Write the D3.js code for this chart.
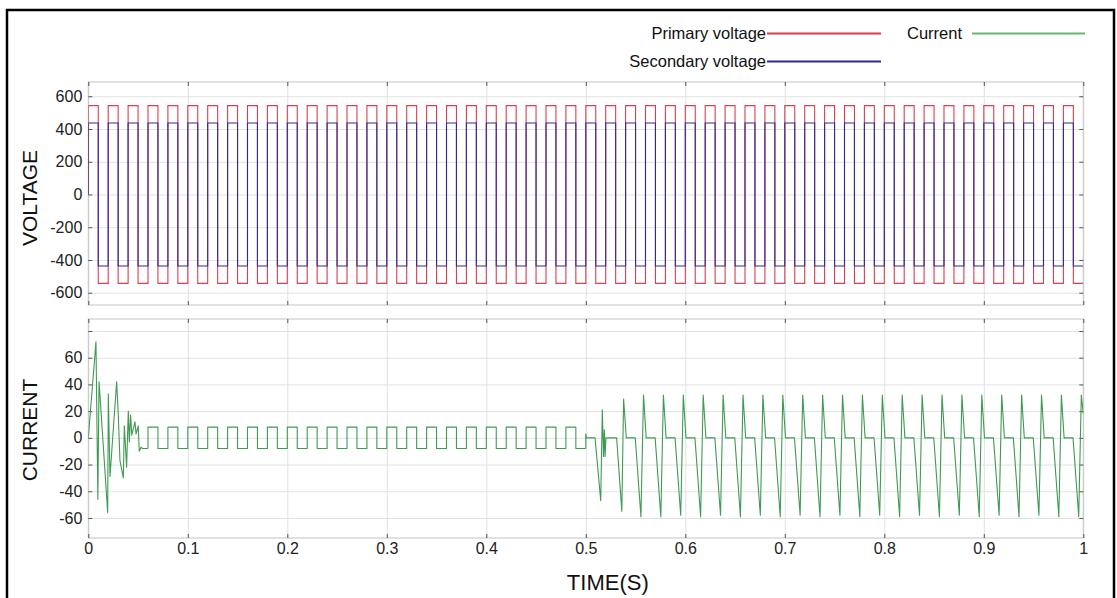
<!DOCTYPE html>
<html><head><meta charset="utf-8">
<script src="https://cdn.jsdelivr.net/npm/d3@7"></script>
<style>
html,body{margin:0;padding:0;background:#fff;}
svg{display:block;font-family:"Liberation Sans",Arial,Helvetica,sans-serif;}
</style></head><body>
<svg id="chart" width="1117" height="598"></svg>
<script>
// ---------------- DATA ----------------
const timeTicks = [0,0.1,0.2,0.3,0.4,0.5,0.6,0.7,0.8,0.9,1];
const timeTickLabels = ["0","0.1","0.2","0.3","0.4","0.5","0.6","0.7","0.8","0.9","1"];
const voltageTicks = [-600,-400,-200,0,200,400,600];
const voltageTickLabels = ["-600","-400","-200","0","200","400","600"];
const currentTicks = [-60,-40,-20,0,20,40,60,80];
const currentTickLabels = ["-60","-40","-20","0","20","40","60",""];
const seriesNames = ["Primary voltage","Secondary voltage","Current"];

// voltage switching instants (s) – square waves, value held until next instant
const voltTimes = [0,0,
 0.01,0.02,0.03,0.04,0.05,0.06,0.07,0.08,0.09,0.10,
 0.11,0.12,0.13,0.14,0.15,0.16,0.17,0.18,0.19,0.20,
 0.21,0.22,0.23,0.24,0.25,0.26,0.27,0.28,0.29,0.30,
 0.31,0.32,0.33,0.34,0.35,0.36,0.37,0.38,0.39,0.40,
 0.41,0.42,0.43,0.44,0.45,0.46,0.47,0.48,0.49,0.50,
 0.51,0.52,0.53,0.54,0.55,0.56,0.57,0.58,0.59,0.60,
 0.61,0.62,0.63,0.64,0.65,0.66,0.67,0.68,0.69,0.70,
 0.71,0.72,0.73,0.74,0.75,0.76,0.77,0.78,0.79,0.80,
 0.81,0.82,0.83,0.84,0.85,0.86,0.87,0.88,0.89,0.90,
 0.91,0.92,0.93,0.94,0.95,0.96,0.97,0.98,0.99,1.00];
const primaryVoltage = [0,
 543,-543,543,-543,543,-543,543,-543,543,-543,
 543,-543,543,-543,543,-543,543,-543,543,-543,
 543,-543,543,-543,543,-543,543,-543,543,-543,
 543,-543,543,-543,543,-543,543,-543,543,-543,
 543,-543,543,-543,543,-543,543,-543,543,-543,
 543,-543,543,-543,543,-543,543,-543,543,-543,
 543,-543,543,-543,543,-543,543,-543,543,-543,
 543,-543,543,-543,543,-543,543,-543,543,-543,
 543,-543,543,-543,543,-543,543,-543,543,-543,
 543,-543,543,-543,543,-543,543,-543,543,-543,
 -543];
const secondaryVoltage = [0,
 437,-437,437,-437,437,-437,437,-437,437,-437,
 437,-437,437,-437,437,-437,437,-437,437,-437,
 437,-437,437,-437,437,-437,437,-437,437,-437,
 437,-437,437,-437,437,-437,437,-437,437,-437,
 437,-437,437,-437,437,-437,437,-437,437,-437,
 437,-437,437,-437,437,-437,437,-437,437,-437,
 437,-437,437,-437,437,-437,437,-437,437,-437,
 437,-437,437,-437,437,-437,437,-437,437,-437,
 437,-437,437,-437,437,-437,437,-437,437,-437,
 437,-437,437,-437,437,-437,437,-437,437,-437,
 -437];

// current: start-up transient (linear segments)
const currentStartT = [0,0.0077,0.0096,0.0108,0.0195,0.0201,0.0218,0.0285,0.0302,0.0318,0.0352,0.0362,0.0385,0.0402,0.0412,0.0425,0.0437,0.0469,0.048,0.0502,0.0512,0.053,0.0545,0.06];
const currentStartV = [0,72,-46,42,-56,33,-29,42,16,-17,-30,9,-22,20,-3,17,2,12,3,9,-10,-7,-8,-8];
// current: square section (value held until next instant)
const currentSquareT = [0.06,0.06,0.07,0.08,0.09,0.10,0.11,0.12,0.13,0.14,0.15,0.16,0.17,0.18,0.19,0.20,
 0.21,0.22,0.23,0.24,0.25,0.26,0.27,0.28,0.29,0.30,0.31,0.32,0.33,0.34,0.35,0.36,0.37,0.38,0.39,0.40,
 0.41,0.42,0.43,0.44,0.45,0.46,0.47,0.48,0.49,0.50];
const currentSquareV = [-8,8,-8,8,-8,8,-8,8,-8,8,-8,8,-8,8,-8,8,
 -8,8,-8,8,-8,8,-8,8,-8,8,-8,8,-8,8,-8,8,-8,8,-8,8,
 -8,8,-8,8,-8,8,-8,8,-8,-8];
// current: loaded section (linear segments)
const currentLoadT = [0.5,0.5,0.5008,0.5093,0.515,0.5166,0.5178,0.5186,0.5194,0.5202,0.531,0.5362,0.538,0.5407,0.5497,0.5554,0.558,
 0.5607,0.5697,0.5754,0.578, 0.5807,0.5897,0.5954,0.598, 0.6007,0.6097,0.6154,0.618, 0.6207,0.6297,0.6354,0.638,
 0.6407,0.6497,0.6554,0.658, 0.6607,0.6697,0.6754,0.678, 0.6807,0.6897,0.6954,0.698, 0.7007,0.7097,0.7154,0.718,
 0.7207,0.7297,0.7354,0.738, 0.7407,0.7497,0.7554,0.758, 0.7607,0.7697,0.7754,0.778, 0.7807,0.7897,0.7954,0.798,
 0.8007,0.8097,0.8154,0.818, 0.8207,0.8297,0.8354,0.838, 0.8407,0.8497,0.8554,0.858, 0.8607,0.8697,0.8754,0.878,
 0.8807,0.8897,0.8954,0.898, 0.9007,0.9097,0.9154,0.918, 0.9207,0.9297,0.9354,0.938, 0.9407,0.9497,0.9554,0.958,
 0.9607,0.9697,0.9754,0.978, 0.9807,0.9897,0.9954,0.998, 1.0];
const currentLoadV = [-8,3,0,0,-47,21,-14,6,-14,0,0,-55,29,0,0,-59,32,
 0,0,-59,32, 0,0,-58,32, 0,0,-59,32, 0,0,-58,32,
 0,0,-59,32, 0,0,-58,32, 0,0,-59,32, 0,0,-58,32,
 0,0,-59,32, 0,0,-58,32, 0,0,-59,32, 0,0,-58,32,
 0,0,-59,32, 0,0,-58,32, 0,0,-59,32, 0,0,-58,32,
 0,0,-59,32, 0,0,-58,32, 0,0,-59,32, 0,0,-58,32,
 0,0,-59,32, 0,0,-59,32, 18];

// ---------------- DRAW ----------------
const colors = {primary:"#d8404f", secondary:"#2c2c94", current:"#3f9a52"};
const svg = d3.select("#chart");
svg.append("rect").attr("width",1117).attr("height",598).attr("fill","#fff");
svg.append("rect").attr("x",7).attr("y",10).attr("width",1107).attr("height",620)
   .attr("fill","none").attr("stroke","#000").attr("stroke-width",2.5);

const L = 88.3, R = 1083.3;
const x = d3.scaleLinear().domain([0,1]).range([L,R]);
const yV = d3.scaleLinear().domain([-675,687]).range([305,82]);
const yC = d3.scaleLinear().domain([-75,89]).range([538,319]);

function panel(y, yTicks, yLabels, showX){
  const g = svg.append("g");
  const top = y.range()[1], bot = y.range()[0];
  // grid
  const gy = g.append("g").attr("transform",`translate(${L},0)`)
    .call(d3.axisLeft(y).tickValues(yTicks).tickSize(-(R-L)).tickFormat(""));
  gy.select(".domain").remove();
  gy.selectAll("line").attr("stroke","#e2e2e2");
  const gx = g.append("g").attr("transform",`translate(0,${bot})`)
    .call(d3.axisBottom(x).tickValues(timeTicks).tickSize(-(bot-top)).tickFormat(""));
  gx.select(".domain").remove();
  gx.selectAll("line").attr("stroke","#e2e2e2");
  // frame
  g.append("rect").attr("x",L).attr("y",top).attr("width",R-L).attr("height",bot-top)
    .attr("fill","none").attr("stroke","#c4c4c4").attr("stroke-width",1);
  // inward ticks
  const left = g.append("g").attr("transform",`translate(${L},0)`)
    .call(d3.axisLeft(y).tickValues(yTicks).tickSizeInner(-4).tickSizeOuter(0).tickPadding(6)
      .tickFormat((d,i)=>yLabels[i]));
  left.select(".domain").remove();
  left.selectAll("line").attr("stroke","#555");
  left.selectAll("text").attr("font-size",16).attr("fill","#222")
    .attr("font-family","'Liberation Sans',Arial,sans-serif");
  const right = g.append("g").attr("transform",`translate(${R},0)`)
    .call(d3.axisRight(y).tickValues(yTicks).tickSizeInner(-4).tickSizeOuter(0).tickFormat(""));
  right.select(".domain").remove();
  right.selectAll("line").attr("stroke","#555");
  const tp = g.append("g").attr("transform",`translate(0,${top})`)
    .call(d3.axisTop(x).tickValues(timeTicks).tickSizeInner(-4).tickSizeOuter(0).tickFormat(""));
  tp.select(".domain").remove();
  tp.selectAll("line").attr("stroke","#555");
  const bt = g.append("g").attr("transform",`translate(0,${bot})`)
    .call(d3.axisBottom(x).tickValues(timeTicks).tickSizeInner(-4).tickSizeOuter(0).tickPadding(5)
      .tickFormat((d,i)=> showX ? timeTickLabels[i] : ""));
  bt.select(".domain").remove();
  bt.selectAll("line").attr("stroke","#555");
  bt.selectAll("text").attr("font-size",16).attr("fill","#222")
    .attr("font-family","'Liberation Sans',Arial,sans-serif");
  return g;
}

const pV = panel(yV, voltageTicks, voltageTickLabels, false);
const pC = panel(yC, currentTicks, currentTickLabels, true);

// clip
const defs = svg.append("defs");
defs.append("clipPath").attr("id","clipV").append("rect").attr("x",L).attr("y",82).attr("width",R-L).attr("height",223);
defs.append("clipPath").attr("id","clipC").append("rect").attr("x",L).attr("y",319).attr("width",R-L).attr("height",219);

const zip = (ts,vs)=> ts.map((t,i)=>[t,vs[i]]);
const stepV = d3.line().x(d=>x(d[0])).y(d=>yV(d[1])).curve(d3.curveStepAfter);
svg.append("path").attr("clip-path","url(#clipV)").attr("d",stepV(zip(voltTimes,primaryVoltage)))
  .attr("fill","none").attr("stroke",colors.primary).attr("stroke-width",1.1);
svg.append("path").attr("clip-path","url(#clipV)").attr("d",stepV(zip(voltTimes,secondaryVoltage)))
  .attr("fill","none").attr("stroke",colors.secondary).attr("stroke-width",1.1);

const linC = d3.line().x(d=>x(d[0])).y(d=>yC(d[1]));
const stepC = d3.line().x(d=>x(d[0])).y(d=>yC(d[1])).curve(d3.curveStepAfter);
const gC = svg.append("g").attr("clip-path","url(#clipC)").attr("fill","none")
  .attr("stroke",colors.current).attr("stroke-width",1.1).attr("stroke-linejoin","round");
gC.append("path").attr("d",linC(zip(currentStartT,currentStartV)));
gC.append("path").attr("d",stepC(zip(currentSquareT,currentSquareV)));
gC.append("path").attr("d",linC(zip(currentLoadT,currentLoadV)));

// axis titles
svg.append("text").attr("transform","translate(37,198) rotate(-90)").attr("text-anchor","middle")
  .attr("font-size",21).attr("fill","#111").text("VOLTAGE");
svg.append("text").attr("transform","translate(37,430) rotate(-90)").attr("text-anchor","middle")
  .attr("font-size",21).attr("fill","#111").text("CURRENT");
svg.append("text").attr("x",(x(0)+x(1))/2+22).attr("y",590).attr("text-anchor","middle")
  .attr("font-size",22).attr("fill","#111").text("TIME(S)");

// legend
const leg = svg.append("g").attr("font-size",16.5).attr("fill","#111");
leg.append("text").attr("x",766).attr("y",39).attr("text-anchor","end").text(seriesNames[0]);
leg.append("line").attr("x1",767).attr("x2",881).attr("y1",33.5).attr("y2",33.5)
  .attr("stroke","#d33d4e").attr("stroke-width",2);
leg.append("text").attr("x",766).attr("y",67).attr("text-anchor","end").text(seriesNames[1]);
leg.append("line").attr("x1",767).attr("x2",881).attr("y1",61.5).attr("y2",61.5)
  .attr("stroke","#2b2b8f").attr("stroke-width",2);
leg.append("text").attr("x",907).attr("y",39).attr("text-anchor","start").text(seriesNames[2]);
leg.append("line").attr("x1",972).attr("x2",1085).attr("y1",33.5).attr("y2",33.5)
  .attr("stroke","#6ab46f").attr("stroke-width",2);
</script>
</body></html>
